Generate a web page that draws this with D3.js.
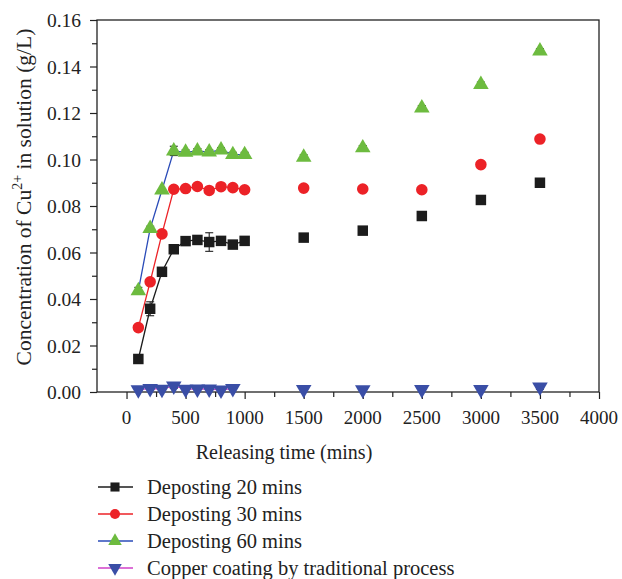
<!DOCTYPE html>
<html>
<head>
<meta charset="utf-8">
<script src="https://cdn.jsdelivr.net/npm/d3@7"></script>
<style>
  body { margin: 0; background: #fff; }
  svg { font-family: "Liberation Serif", "DejaVu Serif", serif; }
</style>
</head>
<body>
<svg id="chart"></svg>
<script>
// releasing time (mins)
let times = [100, 200, 300, 400, 500, 600, 700, 800, 900, 1000, 1500, 2000, 2500, 3000, 3500]
let timesTrad = [100, 200, 300, 400, 500, 600, 700, 800, 900, 1500, 2000, 2500, 3000, 3500]

let dep20 = [0.0142, 0.0358, 0.0517, 0.0614, 0.0649, 0.0654, 0.0645, 0.0650, 0.0634, 0.0650, 0.0664, 0.0694, 0.0757, 0.0826, 0.0900]
let dep20Err = [0, 0.003, 0.001, 0, 0, 0, 0.004, 0, 0, 0, 0, 0, 0, 0.0012, 0]
let dep30 = [0.0277, 0.0474, 0.0680, 0.0872, 0.0875, 0.0884, 0.0867, 0.0883, 0.0879, 0.0870, 0.0877, 0.0873, 0.0870, 0.0978, 0.1088]
let dep30Err = [0, 0, 0, 0, 0, 0, 0, 0, 0, 0, 0, 0, 0, 0, 0]
let dep60 = [0.0435, 0.0703, 0.0869, 0.1037, 0.1031, 0.1037, 0.1032, 0.1041, 0.1021, 0.1021, 0.1010, 0.1050, 0.1222, 0.1323, 0.1467]
let dep60Err = [0.0015, 0.001, 0, 0.002, 0.001, 0.001, 0.001, 0.001, 0.001, 0.001, 0.001, 0.001, 0.001, 0.001, 0.001]
let trad = [0.0010, 0.0015, 0.0012, 0.0026, 0.0012, 0.0013, 0.0013, 0.0009, 0.0015, 0.0011, 0.0010, 0.0011, 0.0011, 0.0022]
let tradErr = [0, 0, 0, 0.001, 0, 0, 0, 0, 0, 0, 0, 0, 0, 0.001]

// the line segment only runs through the first part of each series
let lineEnd = 1000

let xTicks = [0, 500, 1000, 1500, 2000, 2500, 3000, 3500, 4000]
let yTicks = [0, 0.02, 0.04, 0.06, 0.08, 0.10, 0.12, 0.14, 0.16]

let seriesNames = ["Deposting 20 mins", "Deposting 30 mins", "Deposting 60 mins", "Copper coating by traditional process"]

let width = 622
let height = 579
let plotLeft = 97, plotRight = 599, plotTop = 20, plotBottom = 392

let svg = d3.select("#chart").attr("width", width).attr("height", height)

let xScale = d3.scaleLinear().domain([-250, 4000]).range([plotLeft, plotRight])
let yScale = d3.scaleLinear().domain([0, 0.16]).range([plotBottom, plotTop])

let series = [
  { name: seriesNames[0], x: times, y: dep20, err: dep20Err, shape: d3.symbolSquare, size: 110, fill: "#1c1c1c", line: "#1c1c1c", rot: 0 },
  { name: seriesNames[1], x: times, y: dep30, err: dep30Err, shape: d3.symbolCircle, size: 105, fill: "#ec2227", line: "#ec2227", rot: 0 },
  { name: seriesNames[2], x: times, y: dep60, err: dep60Err, shape: d3.symbolTriangle, size: 105, fill: "#6dbb3f", line: "#2a4bb8", rot: 0 },
  { name: seriesNames[3], x: timesTrad, y: trad, err: tradErr, shape: d3.symbolTriangle, size: 105, fill: "#3a4ea6", line: "#d040c8", rot: 180 }
]

// frame
svg.append("rect")
  .attr("x", plotLeft).attr("y", plotTop)
  .attr("width", plotRight - plotLeft).attr("height", plotBottom - plotTop)
  .attr("fill", "none").attr("stroke", "#222").attr("stroke-width", 1.3)

// x axis
let xAxis = d3.axisBottom(xScale).tickValues(d3.range(0, 4001, 250)).tickSize(0).tickFormat("")
let gx = svg.append("g").attr("transform", "translate(0," + plotBottom + ")").call(xAxis)
gx.select(".domain").remove()
gx.selectAll(".tick line")
  .attr("y2", (d) => (d % 500 === 0 ? 7 : 5))
  .attr("stroke", "#222").attr("stroke-width", 1.2)

svg.append("g").selectAll("text")
  .data(xTicks)
  .enter()
  .append("text")
  .attr("x", (d) => xScale(d))
  .attr("y", plotBottom + 32)
  .attr("text-anchor", "middle")
  .style("font-size", "19px")
  .attr("fill", "#222")
  .text((d) => d)

// y axis
let yAxis = d3.axisLeft(yScale).tickValues(d3.range(0, 0.1601, 0.01)).tickSize(0).tickFormat("")
let gy = svg.append("g").attr("transform", "translate(" + plotLeft + ",0)").call(yAxis)
gy.select(".domain").remove()
gy.selectAll(".tick line")
  .attr("x2", (d, i) => (i % 2 === 0 ? -7 : -5))
  .attr("stroke", "#222").attr("stroke-width", 1.2)

svg.append("g").selectAll("text")
  .data(yTicks)
  .enter()
  .append("text")
  .attr("x", plotLeft - 16)
  .attr("y", (d) => yScale(d) + 7)
  .attr("text-anchor", "end")
  .style("font-size", "19.5px")
  .attr("fill", "#222")
  .text((d) => d.toFixed(2))

// axis titles
svg.append("text")
  .attr("x", 284)
  .attr("y", plotBottom + 67)
  .attr("text-anchor", "middle")
  .style("font-size", "20px")
  .attr("fill", "#222")
  .text("Releasing time (mins)")

let yTitle = svg.append("text")
  .attr("transform", "translate(31," + 197 + ") rotate(-90)")
  .attr("text-anchor", "middle")
  .style("font-size", "21.5px")
  .attr("fill", "#222")
yTitle.append("tspan").text("Concentration of Cu")
yTitle.append("tspan").attr("dy", -9).style("font-size", "14px").text("2+")
yTitle.append("tspan").attr("dy", 9).text(" in solution (g/L)")

// lines, error bars, markers
let lineGen = d3.line().x((d) => xScale(d[0])).y((d) => yScale(d[1]))

series.forEach((s) => {
  let pts = s.x.map((t, i) => [t, s.y[i], s.err[i]])
  svg.append("path")
    .datum(pts.filter((p) => p[0] <= lineEnd))
    .attr("d", lineGen)
    .attr("fill", "none")
    .attr("stroke", s.line)
    .attr("stroke-width", 1.3)
})

series.forEach((s) => {
  let pts = s.x.map((t, i) => [t, s.y[i], s.err[i]])
  let eb = svg.append("g").selectAll("g")
    .data(pts.filter((p) => p[2] > 0))
    .enter()
    .append("g")
    .attr("stroke", "#222").attr("stroke-width", 1.1)
  eb.append("line")
    .attr("x1", (p) => xScale(p[0])).attr("x2", (p) => xScale(p[0]))
    .attr("y1", (p) => yScale(p[1] - p[2])).attr("y2", (p) => yScale(p[1] + p[2]))
  eb.append("line")
    .attr("x1", (p) => xScale(p[0]) - 4).attr("x2", (p) => xScale(p[0]) + 4)
    .attr("y1", (p) => yScale(p[1] + p[2])).attr("y2", (p) => yScale(p[1] + p[2]))
  eb.append("line")
    .attr("x1", (p) => xScale(p[0]) - 4).attr("x2", (p) => xScale(p[0]) + 4)
    .attr("y1", (p) => yScale(p[1] - p[2])).attr("y2", (p) => yScale(p[1] - p[2]))

  svg.append("g").selectAll("path")
    .data(pts)
    .enter()
    .append("path")
    .attr("d", d3.symbol().type(s.shape).size(s.size))
    .attr("transform", (p) => "translate(" + xScale(p[0]) + "," + yScale(p[1]) + ") rotate(" + s.rot + ")")
    .attr("fill", s.fill)
})

// legend
let legend = svg.append("g")
series.forEach((s, i) => {
  let ly = 487 + i * 27
  legend.append("line")
    .attr("x1", 98).attr("x2", 133)
    .attr("y1", ly).attr("y2", ly)
    .attr("stroke", s.line).attr("stroke-width", 1.3)
  legend.append("path")
    .attr("d", d3.symbol().type(s.shape).size(s.size * 0.75))
    .attr("transform", "translate(115," + ly + ") rotate(" + s.rot + ")")
    .attr("fill", s.fill)
  legend.append("text")
    .attr("x", 147)
    .attr("y", ly + 7)
    .style("font-size", "20.5px")
    .attr("fill", "#222")
    .text(s.name)
})
</script>
</body>
</html>
